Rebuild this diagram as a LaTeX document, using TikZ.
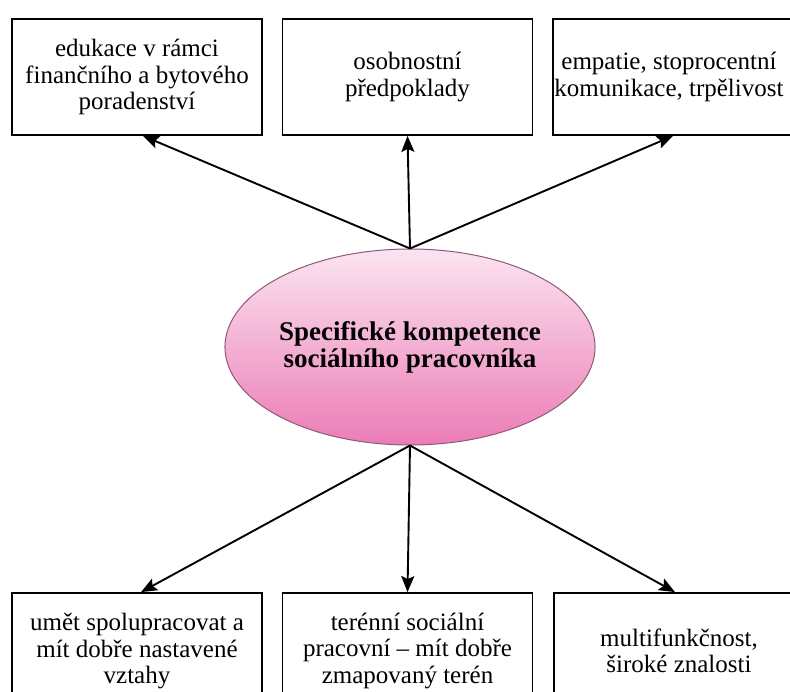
\documentclass[tikz,border=0pt]{standalone}
\usepackage{fontspec}
\setmainfont{Liberation Serif}
\usetikzlibrary{shapes.geometric,arrows.meta}

\definecolor{eltop}{RGB}{251,228,240}
\definecolor{elmid}{RGB}{246,192,221}
\definecolor{elbot}{RGB}{236,124,182}
\definecolor{elline}{RGB}{140,90,120}

\tikzset{
  kbox/.style={draw, line width=1.8pt, minimum width=250pt, minimum height=116pt,
    inner sep=0pt, align=center, font=\fontsize{25}{26.5}\selectfont},
  kell/.style={ellipse, draw=elline, line width=1pt, minimum width=340pt,
    minimum height=196pt, inner sep=0pt, top color=eltop, middle color=elmid,
    bottom color=elbot, align=center, font=\fontsize{27}{27}\selectfont\bfseries},
  karrow/.style={-{Stealth[length=16pt,width=13pt,inset=3pt]}, line width=1.9pt},
}

\begin{document}
\begin{tikzpicture}[x=1pt,y=-1pt]
\useasboundingbox (0,0) rectangle (790,692);
\clip (0,0) rectangle (790,692);

\node[kell] (kompetence) at (410,347) {Specifické kompetence\\sociálního pracovníka};

\node[kbox] (edukace) at (137,77) {edukace v rámci\\finančního a bytového\\poradenství};
\node[kbox] (osobnost) at (407.5,77) {osobnostní\\předpoklady};
\node[kbox] (empatie) at (678,77) {empatie, stoprocentní\hspace*{18pt}\\komunikace, trpělivost\hspace*{18pt}};

\node[kbox] (spoluprace) at (137,651) {umět spolupracovat a\\mít dobře nastavené\\vztahy};
\node[kbox] (teren) at (407.5,651) {terénní sociální\\pracovní -- mít dobře\\zmapovaný terén};
\node[kbox] (znalosti) at (679,651) {multifunkčnost,\\široké znalosti};

\draw[karrow] (kompetence.north) -- ([xshift=6pt]edukace.south);
\draw[karrow] (kompetence.north) -- (osobnost.south);
\draw[karrow] (kompetence.north) -- ([xshift=-5pt]empatie.south);
\draw[karrow] (kompetence.south) -- ([xshift=4pt]spoluprace.north);
\draw[karrow] (kompetence.south) -- (teren.north);
\draw[karrow] (kompetence.south) -- ([xshift=-4pt]znalosti.north);
\end{tikzpicture}
\end{document}
